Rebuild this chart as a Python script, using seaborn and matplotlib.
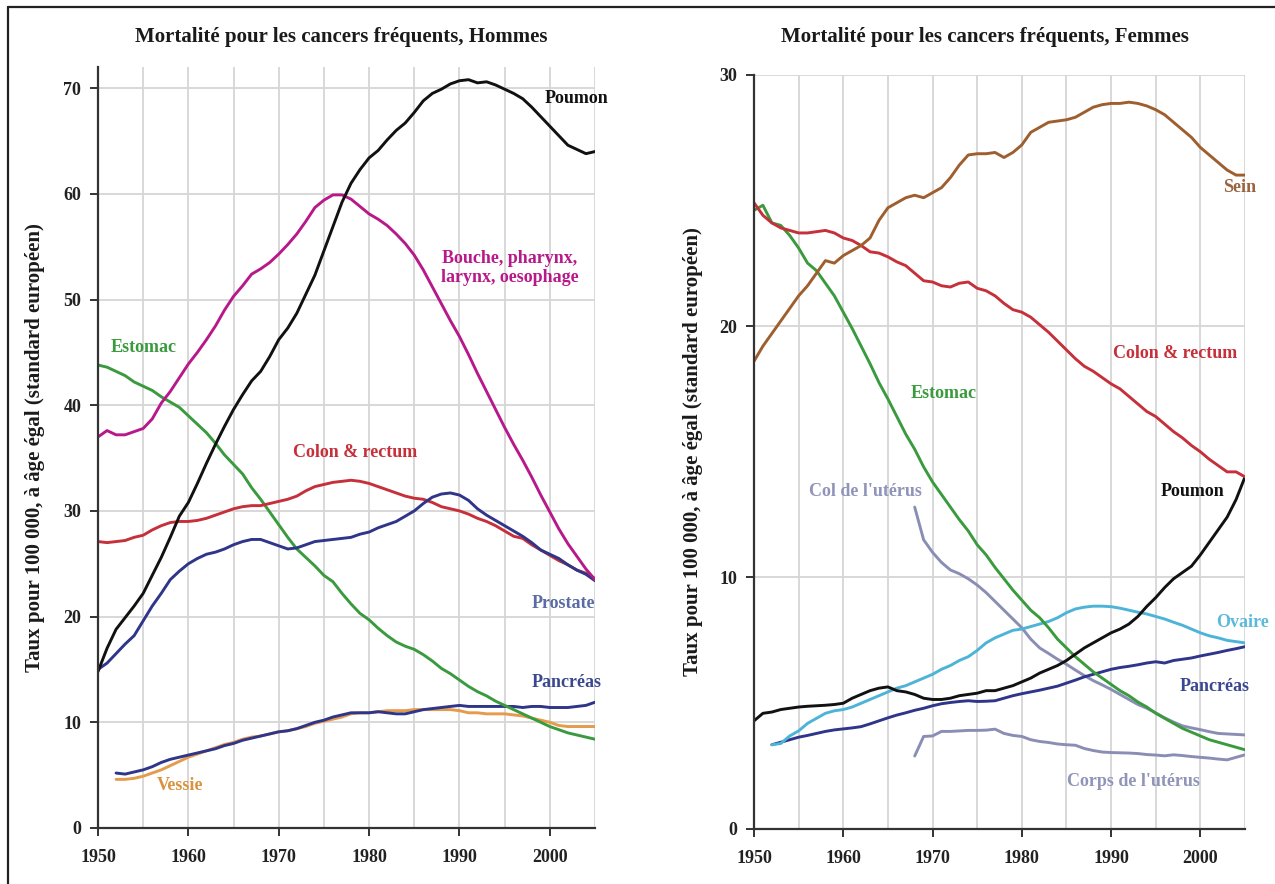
import numpy as np
import pandas as pd
import matplotlib
matplotlib.use("Agg")
import matplotlib.pyplot as plt
from matplotlib.lines import Line2D
import seaborn as sns

# ---------------- Data: men (rate per 100 000, European standard) ----------------
annees = list(range(1950, 2006))
annees_1952 = list(range(1952, 2006))
annees_1968 = list(range(1968, 2006))

h_poumon = [14.8, 17.0, 18.8, 19.9, 21.0, 22.2, 23.9, 25.6, 27.5, 29.5,
            30.8, 32.6, 34.5, 36.3, 38.0, 39.6, 41.0, 42.3, 43.2, 44.6,
            46.2, 47.3, 48.7, 50.5, 52.3, 54.6, 56.9, 59.2, 61.0, 62.3,
            63.4, 64.1, 65.1, 66.0, 66.7, 67.7, 68.8, 69.5, 69.9, 70.4,
            70.7, 70.8, 70.5, 70.6, 70.3, 69.9, 69.5, 69.0, 68.2, 67.3,
            66.4, 65.5, 64.6, 64.2, 63.8, 64.0]
h_bouche = [37.0, 37.6, 37.2, 37.2, 37.5, 37.8, 38.7, 40.2, 41.3, 42.6,
            43.9, 45.0, 46.2, 47.5, 49.0, 50.3, 51.3, 52.4, 52.9, 53.5,
            54.3, 55.2, 56.2, 57.4, 58.7, 59.4, 59.9, 59.9, 59.5, 58.8,
            58.1, 57.6, 57.0, 56.2, 55.3, 54.2, 52.8, 51.2, 49.6, 48.0,
            46.5, 44.8, 43.0, 41.3, 39.6, 37.9, 36.3, 34.8, 33.2, 31.5,
            29.9, 28.3, 26.9, 25.7, 24.5, 23.5]
h_estomac = [43.8, 43.6, 43.2, 42.8, 42.2, 41.8, 41.4, 40.8, 40.3, 39.8,
             39.0, 38.2, 37.4, 36.4, 35.3, 34.4, 33.5, 32.2, 31.1, 29.9,
             28.7, 27.5, 26.4, 25.6, 24.8, 23.9, 23.3, 22.2, 21.2, 20.3,
             19.7, 18.9, 18.2, 17.6, 17.2, 16.9, 16.4, 15.8, 15.1, 14.6,
             14.0, 13.4, 12.9, 12.5, 12.0, 11.6, 11.2, 10.8, 10.4, 10.0,
             9.6, 9.3, 9.0, 8.8, 8.6, 8.4]
h_colon = [27.1, 27.0, 27.1, 27.2, 27.5, 27.7, 28.2, 28.6, 28.9, 29.0,
           29.0, 29.1, 29.3, 29.6, 29.9, 30.2, 30.4, 30.5, 30.5, 30.7,
           30.9, 31.1, 31.4, 31.9, 32.3, 32.5, 32.7, 32.8, 32.9, 32.8,
           32.6, 32.3, 32.0, 31.7, 31.4, 31.2, 31.1, 30.8, 30.4, 30.2,
           30.0, 29.7, 29.3, 29.0, 28.6, 28.1, 27.6, 27.4, 26.8, 26.3,
           25.8, 25.3, 24.9, 24.4, 24.1, 23.6]
h_prostate = [15.0, 15.6, 16.5, 17.4, 18.2, 19.6, 21.0, 22.2, 23.5, 24.3,
              25.0, 25.5, 25.9, 26.1, 26.4, 26.8, 27.1, 27.3, 27.3, 27.0,
              26.7, 26.4, 26.5, 26.8, 27.1, 27.2, 27.3, 27.4, 27.5, 27.8,
              28.0, 28.4, 28.7, 29.0, 29.5, 30.0, 30.7, 31.3, 31.6, 31.7,
              31.5, 31.0, 30.2, 29.6, 29.1, 28.6, 28.1, 27.6, 27.0, 26.3,
              25.9, 25.5, 24.9, 24.4, 24.0, 23.4]
h_pancreas = [5.2, 5.1, 5.3, 5.5, 5.8, 6.2, 6.5, 6.7,
              6.9, 7.1, 7.3, 7.5, 7.8, 8.0, 8.3, 8.5, 8.7, 8.9,
              9.1, 9.2, 9.4, 9.7, 10.0, 10.2, 10.5, 10.7, 10.9, 10.9,
              10.9, 11.0, 10.9, 10.8, 10.8, 11.0, 11.2, 11.3, 11.4, 11.5,
              11.6, 11.5, 11.5, 11.5, 11.5, 11.5, 11.5, 11.4, 11.5, 11.5,
              11.4, 11.4, 11.4, 11.5, 11.6, 11.9]
h_vessie = [4.6, 4.6, 4.7, 4.9, 5.2, 5.5, 5.9, 6.3,
            6.7, 7.0, 7.3, 7.6, 7.9, 8.1, 8.4, 8.6, 8.7, 8.9,
            9.1, 9.2, 9.4, 9.6, 9.9, 10.1, 10.3, 10.5, 10.8, 10.9,
            10.9, 11.0, 11.1, 11.1, 11.1, 11.2, 11.2, 11.2, 11.2, 11.2,
            11.1, 10.9, 10.9, 10.8, 10.8, 10.8, 10.7, 10.6, 10.4, 10.2,
            10.0, 9.7, 9.6, 9.6, 9.6, 9.6]

# ---------------- Data: women ----------------
f_sein = [18.6, 19.2, 19.7, 20.2, 20.7, 21.2, 21.6, 22.1, 22.6, 22.5,
          22.8, 23.0, 23.2, 23.5, 24.2, 24.7, 24.9, 25.1, 25.2, 25.1,
          25.3, 25.5, 25.9, 26.4, 26.8, 26.85, 26.85, 26.9, 26.7, 26.9,
          27.2, 27.7, 27.9, 28.1, 28.15, 28.2, 28.3, 28.5, 28.7, 28.8,
          28.85, 28.85, 28.9, 28.85, 28.75, 28.6, 28.4, 28.1, 27.8, 27.5,
          27.1, 26.8, 26.5, 26.2, 26.0, 26.0]
f_colon = [24.9, 24.4, 24.1, 23.9, 23.8, 23.7, 23.7, 23.75, 23.8, 23.7,
           23.5, 23.4, 23.2, 22.95, 22.9, 22.75, 22.55, 22.4, 22.1, 21.8,
           21.75, 21.6, 21.55, 21.7, 21.75, 21.5, 21.4, 21.2, 20.9, 20.65,
           20.55, 20.35, 20.05, 19.75, 19.4, 19.05, 18.7, 18.4, 18.2, 17.95,
           17.7, 17.5, 17.2, 16.9, 16.6, 16.4, 16.1, 15.8, 15.55, 15.25,
           15.0, 14.7, 14.45, 14.2, 14.2, 14.0]
f_estomac = [24.6, 24.8, 24.1, 24.0, 23.6, 23.1, 22.5, 22.2, 21.7, 21.2,
             20.55, 19.9, 19.2, 18.5, 17.75, 17.1, 16.4, 15.7, 15.1, 14.4,
             13.8, 13.3, 12.8, 12.3, 11.85, 11.3, 10.9, 10.4, 9.95, 9.5,
             9.1, 8.7, 8.4, 8.0, 7.55, 7.2, 6.85, 6.55, 6.25, 6.0,
             5.75, 5.5, 5.3, 5.05, 4.85, 4.6, 4.4, 4.2, 4.0, 3.85,
             3.7, 3.55, 3.45, 3.35, 3.25, 3.15]
f_poumon = [4.3, 4.6, 4.65, 4.75, 4.8, 4.85, 4.88, 4.9, 4.92, 4.95,
            5.0, 5.2, 5.35, 5.5, 5.6, 5.65, 5.5, 5.45, 5.35, 5.2,
            5.15, 5.15, 5.2, 5.3, 5.35, 5.4, 5.5, 5.5, 5.6, 5.7,
            5.85, 6.0, 6.2, 6.35, 6.5, 6.7, 6.95, 7.2, 7.4, 7.6,
            7.8, 7.95, 8.15, 8.45, 8.85, 9.2, 9.6, 9.95, 10.2, 10.45,
            10.9, 11.4, 11.9, 12.4, 13.1, 14.0]
f_ovaire = [3.35, 3.4, 3.7, 3.9, 4.2, 4.4, 4.6, 4.7,
            4.75, 4.85, 5.0, 5.15, 5.3, 5.45, 5.6, 5.7, 5.85, 6.0,
            6.15, 6.35, 6.5, 6.7, 6.85, 7.1, 7.4, 7.6, 7.75, 7.9,
            7.95, 8.05, 8.15, 8.25, 8.4, 8.6, 8.75, 8.82, 8.86, 8.86,
            8.84, 8.78, 8.7, 8.62, 8.55, 8.45, 8.35, 8.22, 8.1, 7.95,
            7.8, 7.68, 7.6, 7.5, 7.45, 7.4]
f_pancreas = [3.35, 3.45, 3.55, 3.65, 3.72, 3.8, 3.88, 3.94,
              3.98, 4.02, 4.07, 4.18, 4.3, 4.42, 4.53, 4.62, 4.72, 4.8,
              4.9, 4.98, 5.03, 5.07, 5.1, 5.07, 5.08, 5.1, 5.2, 5.3,
              5.38, 5.45, 5.52, 5.6, 5.68, 5.8, 5.92, 6.05, 6.15, 6.25,
              6.35, 6.42, 6.47, 6.53, 6.6, 6.65, 6.6, 6.7, 6.75, 6.8,
              6.88, 6.95, 7.02, 7.1, 7.17, 7.25]
f_col_uterus = [12.8, 11.5, 11.0, 10.6, 10.3, 10.15, 9.95, 9.7, 9.4, 9.05,
                8.7, 8.35, 8.0, 7.55, 7.2, 6.98, 6.75, 6.55, 6.32, 6.1,
                5.9, 5.73, 5.55, 5.35, 5.15, 4.95, 4.8, 4.62, 4.42, 4.25,
                4.1, 4.02, 3.95, 3.87, 3.8, 3.78, 3.76, 3.74]
f_corps_uterus = [2.9, 3.68, 3.7, 3.88, 3.88, 3.9, 3.92, 3.92, 3.93, 3.97,
                  3.8, 3.72, 3.68, 3.55, 3.48, 3.44, 3.38, 3.35, 3.33, 3.2,
                  3.12, 3.06, 3.04, 3.03, 3.02, 3.0, 2.96, 2.94, 2.91, 2.95,
                  2.92, 2.88, 2.85, 2.82, 2.78, 2.75, 2.85, 2.95]

x_ticks = [1950, 1960, 1970, 1980, 1990, 2000]
y_ticks_h = [0, 10, 20, 30, 40, 50, 60, 70]
y_ticks_f = [0, 10, 20, 30]

# ---------------- Styling ----------------
SERIF = ["Liberation Serif", "DejaVu Serif"]
sns.set_theme(style="white")
plt.rcParams["font.family"] = SERIF

C_BLACK = "#111111"
C_MAGENTA = "#B8198A"
C_GREEN = "#3A9A3E"
C_RED = "#C6303A"
C_NAVY = "#2F3589"
C_ORANGE = "#E59A4C"
C_BROWN = "#9E5E2E"
C_CYAN = "#4DB4D8"
C_LAV = "#8A8EB4"
GRID = "#D6D6D6"


def long_frame(series):
    parts = []
    for name, years, values in series:
        parts.append(pd.DataFrame({"annee": years, "taux": values, "cancer": name}))
    return pd.concat(parts, ignore_index=True)


hommes = [
    ("Vessie", annees_1952, h_vessie, C_ORANGE),
    ("Pancréas", annees_1952, h_pancreas, C_NAVY),
    ("Estomac", annees, h_estomac, C_GREEN),
    ("Colon & rectum", annees, h_colon, C_RED),
    ("Prostate", annees, h_prostate, C_NAVY),
    ("Bouche", annees, h_bouche, C_MAGENTA),
    ("Poumon", annees, h_poumon, C_BLACK),
]
femmes = [
    ("Corps de l'utérus", annees_1968, f_corps_uterus, C_LAV),
    ("Col de l'utérus", annees_1968, f_col_uterus, C_LAV),
    ("Pancréas", annees_1952, f_pancreas, C_NAVY),
    ("Ovaire", annees_1952, f_ovaire, C_CYAN),
    ("Estomac", annees, f_estomac, C_GREEN),
    ("Poumon", annees, f_poumon, C_BLACK),
    ("Colon & rectum", annees, f_colon, C_RED),
    ("Sein", annees, f_sein, C_BROWN),
]

fig = plt.figure(figsize=(12.75, 8.84), dpi=100)
ax_h = fig.add_axes([0.07686, 0.06335, 0.38980, 0.86086])
ax_f = fig.add_axes([0.59137, 0.06222, 0.38510, 0.85350])


def draw_panel(ax, series, ymax, yticks):
    df = long_frame([(n, yr, v) for n, yr, v, _ in series])
    palette = {n: c for n, _, _, c in series}
    sns.lineplot(data=df, x="annee", y="taux", hue="cancer", palette=palette,
                 hue_order=[n for n, _, _, _ in series], linewidth=2.1,
                 legend=False, ax=ax, zorder=3)
    ax.set_xlim(1950, 2005)
    ax.set_ylim(0, ymax)
    ax.set_xticks(x_ticks)
    ax.set_xticks(list(range(1955, 2006, 5)), minor=True)
    ax.set_yticks(yticks)
    ax.grid(False)
    for yr in range(1955, 2006, 5):
        ax.axvline(yr, color=GRID, lw=1.3, zorder=1)
    for v in yticks[1:]:
        ax.axhline(v, color=GRID, lw=1.3, zorder=1)
    ax.set_xlabel("")
    ax.set_ylabel("")
    for s in ("top", "right"):
        ax.spines[s].set_visible(False)
    for s in ("left", "bottom"):
        ax.spines[s].set_color("#333333")
        ax.spines[s].set_linewidth(1.6)
        ax.spines[s].set_zorder(4)
    ax.tick_params(axis="both", which="major", length=6, width=1.4,
                   color="#333333", direction="out", labelsize=13,
                   labelcolor="#222222")
    ax.tick_params(axis="x", which="major", pad=9, bottom=True)
    ax.tick_params(axis="y", which="major", pad=6, left=True)
    ax.tick_params(axis="x", which="minor", length=0)
    for lab in ax.get_xticklabels() + ax.get_yticklabels():
        lab.set_fontweight("bold")
        lab.set_family(SERIF)
    ax.set_facecolor("white")


draw_panel(ax_h, hommes, 72, y_ticks_h)
draw_panel(ax_f, femmes, 30, y_ticks_f)

lab_kw = dict(ha="center", va="center", fontsize=13, fontweight="bold", zorder=5)
# Men series labels
ax_h.text(2003.0, 69.0, "Poumon", color=C_BLACK, **lab_kw)
ax_h.text(1995.6, 53.0, "Bouche, pharynx,\nlarynx, oesophage", color=C_MAGENTA,
          linespacing=1.2, **lab_kw)
ax_h.text(1955.0, 45.5, "Estomac", color=C_GREEN, **lab_kw)
ax_h.text(1978.4, 35.5, "Colon & rectum", color=C_RED, **lab_kw)
ax_h.text(2001.5, 21.2, "Prostate", color="#5A6CA3", **lab_kw)
ax_h.text(2001.9, 13.8, "Pancréas", color="#3A4890", **lab_kw)
ax_h.text(1959.1, 4.0, "Vessie", color="#D9923F", **lab_kw)

# Women series labels
ax_f.text(2004.4, 25.5, "Sein", color="#9A6440", **lab_kw)
ax_f.text(1997.2, 18.9, "Colon & rectum", color=C_RED, **lab_kw)
ax_f.text(1971.2, 17.3, "Estomac", color=C_GREEN, **lab_kw)
ax_f.text(1962.5, 13.4, "Col de l'utérus", color="#9094BA", **lab_kw)
ax_f.text(1999.1, 13.4, "Poumon", color=C_BLACK, **lab_kw)
ax_f.text(2004.7, 8.2, "Ovaire", color="#5BBADB", **lab_kw)
ax_f.text(2001.6, 5.65, "Pancréas", color="#3A4890", **lab_kw)
ax_f.text(1992.5, 1.87, "Corps de l'utérus", color="#9094BA", **lab_kw)

# Panel titles
title_kw = dict(ha="center", va="center", fontsize=15, fontweight="bold",
                color="#1a1a1a")
fig.text(341 / 1275, 1 - 37 / 884, "Mortalité pour les cancers fréquents, Hommes", **title_kw)
fig.text(985 / 1275, 1 - 37 / 884, "Mortalité pour les cancers fréquents, Femmes", **title_kw)

# Y-axis labels
ylab = "Taux pour 100 000, à âge égal (standard européen)"
ylab_kw = dict(ha="center", va="center", rotation=90, fontsize=15,
               fontweight="bold", color="#1a1a1a")
fig.text(35 / 1275, 1 - 448 / 884, ylab, **ylab_kw)
fig.text(693 / 1275, 1 - 452 / 884, ylab, **ylab_kw)

# Outer frame (top and left edges)
fig.add_artist(Line2D([8 / 1275, 1.0], [1 - 7 / 884, 1 - 7 / 884],
                      transform=fig.transFigure, color="#222222", lw=1.6))
fig.add_artist(Line2D([8 / 1275, 8 / 1275], [0.0, 1 - 7 / 884],
                      transform=fig.transFigure, color="#222222", lw=1.6))

fig.savefig("out.png", dpi=100, facecolor="white")
